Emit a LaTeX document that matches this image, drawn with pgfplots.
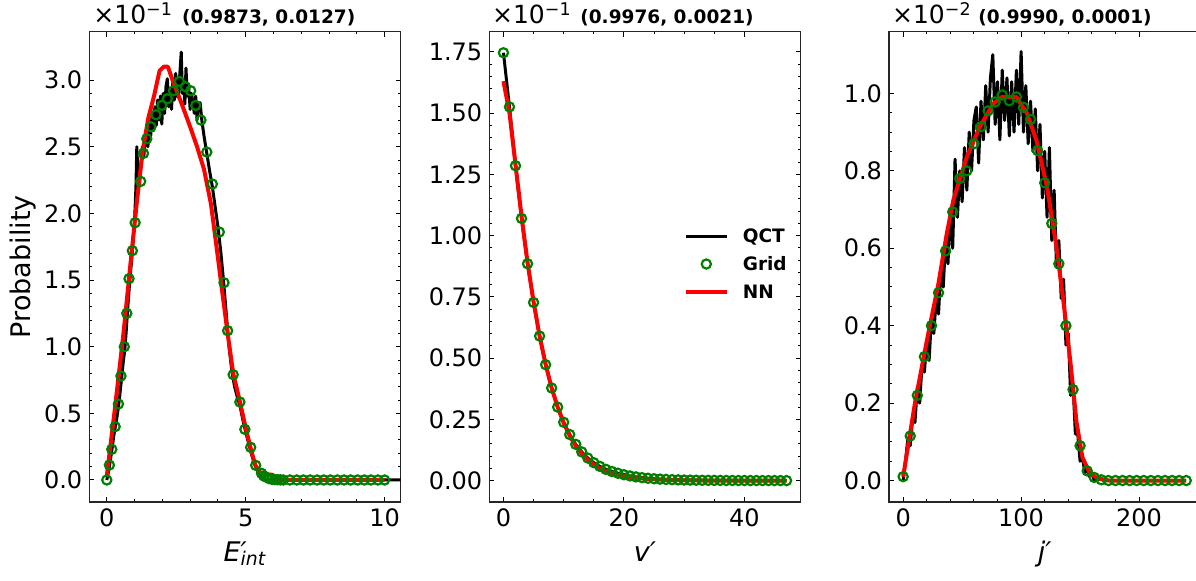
\documentclass[border=0pt]{standalone}
\usepackage{fontspec}
\setmainfont{DejaVu Sans}
\usepackage{pgfplots}
\pgfplotsset{compat=1.18}

\definecolor{gridgreen}{RGB}{0,128,0}

\pgfplotsset{
  panel/.style={
    scale only axis, width=155.7pt, height=235.15pt, anchor=south west,
    tick align=inside, tick pos=both,
    major tick length=2.45pt, minor tick length=1.4pt,
    every tick/.style={black, line width=0.5pt},
    axis line style={line width=0.75pt, black!85},
    tick label style={font=\fontsize{12}{14}\selectfont},
    label style={font=\fontsize{13.5}{15}\selectfont},
    /pgf/number format/assume math mode=true,
    scaled ticks=false,
    xlabel style={at={(axis description cs:0.5,-0.1265)}, anchor=base},
  },
  qct/.style={black, line width=1.5pt, line join=round},
  grd/.style={only marks, mark=o, mark size=2.3pt, gridgreen, mark options={line width=1.1pt}},
  nn/.style={red, line width=2pt, line join=round},
  lineleg/.style={legend image code/.code={\draw[##1] (0pt,0pt) -- (20.5pt,0pt);}},
  markleg/.style={legend image code/.code={\draw[mark repeat=2,mark phase=2,##1] plot coordinates {(0pt,0pt) (10.25pt,0pt) (20.5pt,0pt)};}},
}
\tikzset{
  offs/.style={anchor=base west, inner sep=0pt, font=\fontsize{12.5}{15}\selectfont},
  ttl/.style={anchor=base west, inner sep=0pt, font=\fontsize{9.25}{11}\selectfont\bfseries},
}

\begin{document}
\begin{tikzpicture}

% ---------- panel 1: E'_int ----------
\begin{axis}[panel, at={(44.65pt,39.5pt)},
  xmin=-0.63, xmax=10.58, ymin=-0.165, ymax=3.363,
  xtick={0,5,10}, minor x tick num=4,
  ytick={0,0.5,...,3.0}, minor y tick num=4,
  yticklabel style={/pgf/number format/.cd, fixed, fixed zerofill, precision=1},
  xlabel={\itshape E\rlap{′}\textsubscript{int}},
  ylabel={Probability},
  ylabel style={at={(axis description cs:-0.213,0.5)}, anchor=center},
]
\addplot[qct] coordinates {
(0,0) (0.05,0.05) (0.1,0.11) (0.15,0.18) (0.2,0.25) (0.25,0.33) (0.3,0.39) (0.35,0.45)
(0.4,0.52) (0.45,0.6) (0.5,0.7) (0.55,0.8) (0.6,0.9) (0.65,0.98) (0.7,1.12) (0.75,1.28)
(0.8,1.42) (0.85,1.55) (0.9,1.66) (0.95,1.8) (1.0,1.95) (1.05,2.2) (1.08,2.5) (1.12,2.3)
(1.17,2.2) (1.22,2.35) (1.28,2.5) (1.33,2.42) (1.38,2.55) (1.43,2.62) (1.48,2.5) (1.53,2.68)
(1.58,2.58) (1.63,2.75) (1.68,2.62) (1.73,2.8) (1.78,2.66) (1.83,2.85) (1.88,2.7) (1.93,2.88)
(1.98,2.67) (2.03,2.9) (2.08,2.75) (2.13,2.95) (2.18,3.01) (2.23,2.8) (2.28,2.92) (2.33,2.78)
(2.38,3.0) (2.43,2.85) (2.48,3.05) (2.53,2.88) (2.58,2.87) (2.63,3.05) (2.68,3.21) (2.72,2.9)
(2.77,3.0) (2.81,2.82) (2.85,3.09) (2.9,2.88) (2.95,2.95) (3.0,2.78) (3.05,2.9) (3.1,2.83)
(3.15,2.75) (3.2,2.88) (3.25,2.7) (3.3,2.82) (3.36,2.83) (3.42,2.7) (3.5,2.58) (3.6,2.45)
(3.7,2.32) (3.8,2.2) (3.9,2.05) (4.0,1.9) (4.1,1.72) (4.2,1.5) (4.3,1.25) (4.4,1.0)
(4.5,0.82) (4.6,0.7) (4.7,0.62) (4.8,0.55) (4.9,0.45) (5.0,0.36) (5.1,0.28) (5.2,0.2)
(5.3,0.13) (5.4,0.08) (5.5,0.05) (5.6,0.03) (5.7,0.01) (5.8,0.0) (11,0)
};
\addplot[grd] coordinates {
(0,0) (0.094,0.112) (0.18,0.23) (0.30,0.40) (0.42,0.57) (0.51,0.78) (0.63,1.00) (0.72,1.25)
(0.80,1.51) (0.92,1.72) (1.02,1.93) (1.22,2.24) (1.32,2.45) (1.44,2.56) (1.59,2.65) (1.77,2.74)
(1.98,2.81) (2.18,2.86) (2.40,2.92) (2.61,2.99) (2.83,2.95) (3.02,2.92) (3.20,2.81) (3.39,2.70)
(3.60,2.46) (3.80,2.22) (4.05,1.86) (4.22,1.48) (4.35,1.12) (4.55,0.79) (4.79,0.585) (4.97,0.38)
(5.18,0.245) (5.36,0.11) (5.57,0.05) (5.65,0.03) (5.75,0.02) (5.85,0.01) (5.95,0.005) (6.05,0.003)
(6.15,0.002) (6.25,0.001) (6.35,0) (6.59,0) (6.84,0) (7.08,0) (7.32,0) (7.57,0) (7.81,0)
(8.05,0) (8.30,0) (8.54,0) (8.78,0) (9.03,0) (9.27,0) (9.51,0) (9.76,0) (10.0,0)
};
\addplot[nn] coordinates {
(0,0.03) (0.3,0.55) (0.6,1.1) (0.9,1.72) (1.1,2.12) (1.3,2.48) (1.5,2.72) (1.7,2.88)
(1.9,3.07) (2.05,3.1) (2.2,3.1) (2.4,2.98) (2.7,2.82) (3.0,2.65) (3.25,2.5) (3.5,2.33)
(3.75,2.07) (3.95,1.75) (4.15,1.42) (4.35,1.1) (4.55,0.8) (4.8,0.58) (5.0,0.39) (5.2,0.22)
(5.35,0.11) (5.5,0.06) (5.75,0.04) (5.95,0.04) (6.2,0.0) (10,0)
};
\end{axis}

% ---------- panel 2: v' ----------
\begin{axis}[panel, at={(244.65pt,39.5pt)},
  xmin=-2.35, xmax=49.35, ymin=-0.0873, ymax=1.832,
  xtick={0,20,40}, minor x tick num=3,
  ytick={0,0.25,...,1.75}, minor y tick num=4,
  yticklabel style={/pgf/number format/.cd, fixed, fixed zerofill, precision=2},
  xlabel={\itshape v′},
  legend cell align=left,
  legend style={draw=none, fill=none, at={(axis description cs:0.6234,0.506)}, anchor=west,
    inner sep=0pt, font=\fontsize{9.25}{11}\selectfont\bfseries, row sep=7.3pt,
    nodes={inner sep=0pt, text height=6.7pt, text depth=0pt},
    /tikz/every odd column/.append style={column sep=7pt}},
]
\addplot[qct, lineleg] coordinates {
(0,1.746) (1,1.525) (2,1.285) (3,1.07) (4,0.885) (5,0.727) (6,0.59) (7,0.473) (8,0.378)
(9,0.30) (10,0.238) (11,0.188) (12,0.148) (13,0.117) (14,0.092) (15,0.073) (16,0.058)
(17,0.046) (18,0.037) (19,0.03) (20,0.024) (21,0.019) (22,0.015) (23,0.012) (24,0.0095)
(25,0.0075) (26,0.006) (27,0.0047) (28,0.0037) (29,0.003) (30,0.0023) (32,0.0015) (35,0.0008)
(38,0.0004) (41,0.0002) (44,0.0001) (47,0)
};
\addlegendentry{QCT}
\addplot[grd, markleg] coordinates {
(0,1.746) (1,1.525) (2,1.285) (3,1.07) (4,0.885) (5,0.727) (6,0.59) (7,0.473) (8,0.378)
(9,0.30) (10,0.238) (11,0.188) (12,0.148) (13,0.117) (14,0.092) (15,0.073) (16,0.058)
(17,0.046) (18,0.037) (19,0.03) (20,0.024) (21,0.019) (22,0.015) (23,0.012) (24,0.0095)
(25,0.0075) (26,0.006) (27,0.0047) (28,0.0037) (29,0.003) (30,0.0023) (31,0.0019) (32,0.0015)
(33,0.0012) (34,0.001) (35,0.0008) (36,0.0007) (37,0.0005) (38,0.0004) (39,0.0003) (40,0.0003)
(41,0.0002) (42,0.0002) (43,0.0001) (44,0.0001) (45,0.0001) (46,0) (47,0)
};
\addlegendentry{Grid}
\addplot[nn, lineleg] coordinates {
(0,1.63) (1,1.50) (2,1.29) (3,1.08) (4,0.89) (5,0.73) (6,0.59) (7,0.475) (8,0.378)
(9,0.30) (10,0.235) (11,0.183) (12,0.142) (13,0.11) (14,0.085) (15,0.066) (16,0.05)
(17,0.04) (18,0.031) (19,0.024) (20,0.018) (22,0.011) (24,0.007) (26,0.004) (28,0.002)
(30,0.001) (35,0) (47,0)
};
\addlegendentry{NN}
\end{axis}

% ---------- panel 3: j' ----------
\begin{axis}[panel, at={(444.5pt,39.5pt)},
  xmin=-12, xmax=252, ymin=-0.0554, ymax=1.1594,
  xtick={0,100,200}, minor x tick num=4,
  ytick={0,0.2,...,1.0}, minor y tick num=3,
  yticklabel style={/pgf/number format/.cd, fixed, fixed zerofill, precision=1},
  xlabel={\itshape j′},
]
\addplot[qct] coordinates {
(0,0.0) (2,0.05) (4,0.11) (6,0.09) (8,0.16) (10,0.15) (12,0.24) (14,0.2) (16,0.3) (18,0.28)
(20,0.36) (22,0.31) (24,0.42) (26,0.38) (28,0.47) (30,0.43) (32,0.55) (34,0.5) (36,0.62)
(38,0.56) (40,0.7) (42,0.6) (44,0.83) (46,0.68) (48,0.8) (50,0.72) (52,0.86) (54,0.75)
(56,0.9) (58,0.8) (60,0.93) (62,0.965) (64,0.82) (66,0.98) (68,0.88) (70,1.02) (72,0.9)
(74,1.04) (76,1.10) (78,0.92) (80,1.03) (82,0.88) (84,1.06) (86,0.93) (88,1.04) (90,0.89)
(92,1.03) (94,0.9) (96,1.06) (98,0.92) (100,1.108) (102,0.9) (104,1.02) (106,0.87) (108,0.98)
(110,0.85) (112,0.96) (114,0.8) (116,0.92) (118,0.73) (120,0.85) (122,0.68) (124,0.86)
(126,0.62) (128,0.75) (130,0.55) (132,0.62) (134,0.47) (136,0.52) (138,0.35) (140,0.38)
(142,0.22) (144,0.25) (146,0.12) (148,0.12) (150,0.05) (152,0.06) (154,0.02) (156,0.03)
(158,0.01) (160,0.02) (162,0.0) (166,0.01) (170,0) (240,0)
};
\addplot[grd] coordinates {
(0,0.01) (6,0.115) (12,0.22) (18,0.32) (24,0.40) (30,0.485) (36,0.593) (42,0.694) (48,0.78)
(54,0.80) (60,0.87) (66,0.914) (72,0.955) (78,0.978) (84,0.996) (90,0.981) (96,0.991)
(102,0.964) (108,0.933) (114,0.852) (120,0.769) (126,0.664) (132,0.56) (138,0.40) (144,0.235)
(150,0.09) (156,0.025) (162,0.008) (168,0.002) (174,0) (180,0) (186,0) (192,0) (198,0)
(204,0) (210,0) (216,0) (222,0) (228,0) (234,0) (240,0)
};
\addplot[nn] coordinates {
(0,0.01) (10,0.2) (20,0.36) (30,0.51) (37,0.638) (42.5,0.724) (54,0.836) (65,0.914)
(76.5,0.974) (84,0.991) (96,0.991) (105,0.948) (113,0.879) (122,0.758) (130,0.603)
(136,0.46) (142,0.3) (147,0.15) (152,0.06) (158,0.02) (165,0.005) (175,0) (240,0)
};
\end{axis}

% offset texts and titles above the panels
\node[offs] at (46.5pt,278.5pt) {×10\textsuperscript{−1}};
\node[ttl] at (90.85pt,278.5pt) {(0.9873, 0.0127)};
\node[offs] at (245.85pt,278.5pt) {×10\textsuperscript{−1}};
\node[ttl] at (290pt,278.5pt) {(0.9976, 0.0021)};
\node[offs] at (445.85pt,278.5pt) {×10\textsuperscript{−2}};
\node[ttl] at (489pt,278.5pt) {(0.9990, 0.0001)};

\pgfresetboundingbox
\useasboundingbox (0,0) rectangle (598pt,290.5pt);
\end{tikzpicture}
\end{document}
